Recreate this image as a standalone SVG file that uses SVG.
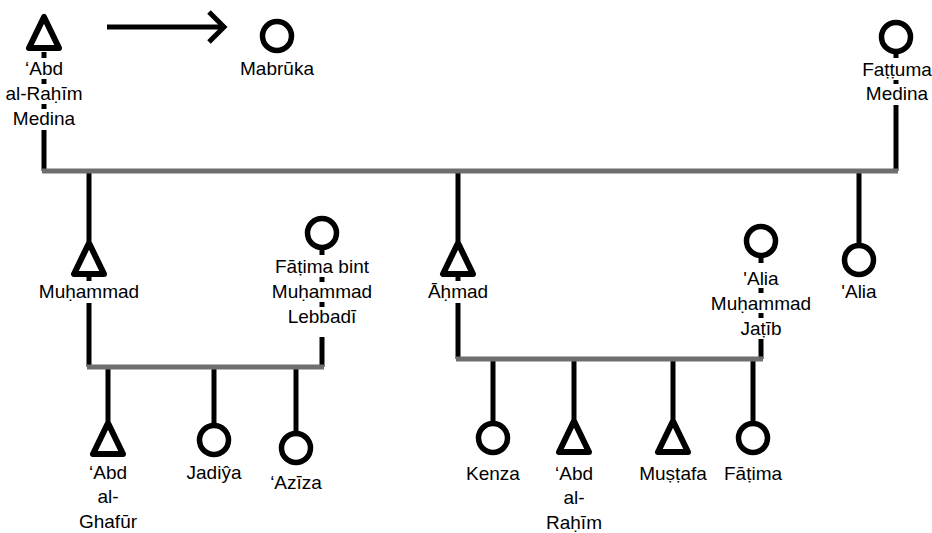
<svg xmlns="http://www.w3.org/2000/svg" xmlns:xlink="http://www.w3.org/1999/xlink" width="932" height="533" viewBox="0 0 932 533">
<style>
  .ln{stroke:#000;stroke-width:5;fill:none}
  .bar{stroke:#6e6e6e;stroke-width:5;fill:none}
  .sym{stroke:#000;stroke-width:6;fill:#fff;stroke-linejoin:round}
  .cir{stroke:#000;stroke-width:5.5;fill:#fff}
  text{font-family:"Liberation Sans",Arial,sans-serif;font-size:19px;fill:#000;text-anchor:middle}
</style>
<defs>
  <path id="tri" d="M0,0 L-15,31 L15,31 Z"/>
</defs>
<rect width="932" height="533" fill="#fff"/>
<g id="connectors">
  <!-- arrow -->
  <line class="ln" x1="107" y1="27" x2="223" y2="27" stroke-width="4.5"/>
  <polyline class="ln" points="209,12 224,27 209,42" stroke-width="4.5"/>
  <!-- Abd al-Rahim Medina -->
  <line class="ln" x1="44" y1="52" x2="44" y2="58"/>
  <line class="ln" x1="44" y1="79" x2="44" y2="84"/>
  <line class="ln" x1="44" y1="104" x2="44" y2="109"/>
  <line class="ln" x1="44" y1="130" x2="44" y2="171"/>
  <!-- Fattuma -->
  <line class="ln" x1="896" y1="52" x2="896" y2="58"/>
  <line class="ln" x1="896" y1="80" x2="896" y2="84"/>
  <line class="ln" x1="896" y1="105" x2="896" y2="171"/>
  <!-- children of top couple -->
  <line class="ln" x1="89" y1="171" x2="89" y2="241"/>
  <line class="ln" x1="458" y1="171" x2="458" y2="241"/>
  <line class="ln" x1="859" y1="171" x2="859" y2="244"/>
  <!-- Muhammad -->
  <line class="ln" x1="89" y1="276" x2="89" y2="281"/>
  <line class="ln" x1="89" y1="303" x2="89" y2="367"/>
  <!-- Fatima bint -->
  <line class="ln" x1="322" y1="249" x2="322" y2="255"/>
  <line class="ln" x1="322" y1="277" x2="322" y2="282"/>
  <line class="ln" x1="322" y1="302" x2="322" y2="307"/>
  <line class="ln" x1="322" y1="337" x2="322" y2="367"/>
  <!-- Ahmad -->
  <line class="ln" x1="458" y1="276" x2="458" y2="281"/>
  <line class="ln" x1="458" y1="303" x2="458" y2="359"/>
  <!-- Alia Jatib -->
  <line class="ln" x1="761" y1="257" x2="761" y2="263"/>
  <line class="ln" x1="761" y1="288" x2="761" y2="293"/>
  <line class="ln" x1="761" y1="313" x2="761" y2="318"/>
  <line class="ln" x1="761" y1="339" x2="761" y2="359"/>
  <!-- children left family -->
  <line class="ln" x1="108" y1="367" x2="108" y2="421"/>
  <line class="ln" x1="214" y1="367" x2="214" y2="425"/>
  <line class="ln" x1="296" y1="367" x2="296" y2="433"/>
  <!-- children right family -->
  <line class="ln" x1="493" y1="359" x2="493" y2="423"/>
  <line class="ln" x1="574" y1="359" x2="574" y2="419"/>
  <line class="ln" x1="673" y1="359" x2="673" y2="419"/>
  <line class="ln" x1="753" y1="359" x2="753" y2="423"/>
  <!-- sibling / marriage bars -->
  <line class="bar" x1="42" y1="171" x2="898" y2="171"/>
  <line class="bar" x1="87" y1="367" x2="324" y2="367"/>
  <line class="bar" x1="456" y1="359" x2="763" y2="359"/>
</g>
<g id="n-abd-rahim-medina">
  <use xlink:href="#tri" class="sym" transform="translate(44,17)"/>
  <text x="44" y="75">‘Abd</text>
  <text x="44" y="100">al-Raḥīm</text>
  <text x="44" y="125">Medina</text>
</g>
<g id="n-mabruka">
  <circle class="cir" cx="277" cy="36" r="14.5"/>
  <text x="277" y="75">Mabrūka</text>
</g>
<g id="n-fattuma">
  <circle class="cir" cx="896" cy="37" r="14.5"/>
  <text x="897" y="76">Faṭṭuma</text>
  <text x="897" y="100">Medina</text>
</g>
<g id="n-muhammad">
  <use xlink:href="#tri" class="sym" transform="translate(89,243)"/>
  <text x="89" y="298">Muḥammad</text>
</g>
<g id="n-fatima-bint">
  <circle class="cir" cx="322" cy="233" r="14.5"/>
  <text x="322" y="273">Fāṭima bint</text>
  <text x="322" y="298">Muḥammad</text>
  <text x="322" y="323">Lebbadī</text>
</g>
<g id="n-ahmad">
  <use xlink:href="#tri" class="sym" transform="translate(458,243)"/>
  <text x="458" y="298">Āḥmad</text>
</g>
<g id="n-alia-jatib">
  <circle class="cir" cx="761" cy="241" r="14.5"/>
  <text x="761" y="285">'Alia</text>
  <text x="761" y="310">Muḥammad</text>
  <text x="761" y="335">Jaṭīb</text>
</g>
<g id="n-alia">
  <circle class="cir" cx="859" cy="260" r="14.5"/>
  <text x="859" y="298">'Alia</text>
</g>
<g id="n-abd-ghafur">
  <use xlink:href="#tri" class="sym" transform="translate(108,423)"/>
  <text x="108" y="479">‘Abd</text>
  <text x="108" y="503">al-</text>
  <text x="108" y="528">Ghafūr</text>
</g>
<g id="n-jadiya">
  <circle class="cir" cx="214" cy="440" r="14.5"/>
  <text x="214" y="479">Jadiŷa</text>
</g>
<g id="n-aziza">
  <circle class="cir" cx="296" cy="448" r="14.5"/>
  <text x="296" y="489">‘Azīza</text>
</g>
<g id="n-kenza">
  <circle class="cir" cx="493" cy="438" r="14.5"/>
  <text x="493" y="480">Kenza</text>
</g>
<g id="n-abd-rahim">
  <use xlink:href="#tri" class="sym" transform="translate(574,421)"/>
  <text x="574" y="480">‘Abd</text>
  <text x="574" y="504">al-</text>
  <text x="574" y="529">Raḥīm</text>
</g>
<g id="n-mustafa">
  <use xlink:href="#tri" class="sym" transform="translate(673,421)"/>
  <text x="673" y="480">Muṣṭafa</text>
</g>
<g id="n-fatima">
  <circle class="cir" cx="753" cy="438" r="14.5"/>
  <text x="753" y="480">Fāṭima</text>
</g>
</svg>
